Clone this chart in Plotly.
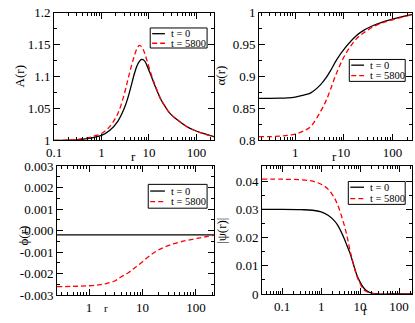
import plotly.graph_objects as go

# A(r)
r_A = [0.1, 0.2, 0.3, 0.5, 0.7, 1.0, 1.5, 2.2, 3.0, 3.6, 4.2, 4.9, 5.6, 6.3, 7.0, 8.0, 9.0, 11, 14, 17.6, 22, 28, 40, 62, 90, 138, 235]
A_t0 = [1.0, 1.0005, 1.001, 1.003, 1.005, 1.008, 1.016, 1.030, 1.050, 1.067, 1.085, 1.104, 1.117, 1.124, 1.127, 1.125, 1.118, 1.102, 1.082, 1.065, 1.053, 1.042, 1.032, 1.022, 1.016, 1.011, 1.006]
A_t5800 = [1.0, 1.0007, 1.0015, 1.004, 1.007, 1.011, 1.022, 1.042, 1.072, 1.0955, 1.115, 1.132, 1.144, 1.149, 1.147, 1.138, 1.126, 1.105, 1.083, 1.065, 1.053, 1.042, 1.032, 1.022, 1.016, 1.011, 1.006]

# alpha(r)
r_al = [0.18, 0.3, 0.5, 0.7, 1.0, 1.5, 2.1, 3.3, 4.3, 5.3, 7.2, 10.6, 18, 25, 40, 60, 100, 160, 250]
al_t0 = [0.866, 0.866, 0.8662, 0.8667, 0.868, 0.871, 0.8746, 0.887, 0.898, 0.909, 0.927, 0.945, 0.964, 0.972, 0.980, 0.985, 0.990, 0.994, 0.997]
al_t5800 = [0.806, 0.806, 0.807, 0.808, 0.810, 0.815, 0.822, 0.845, 0.862, 0.8796, 0.907, 0.934, 0.959, 0.968, 0.978, 0.984, 0.989, 0.993, 0.997]

# phi(r)
r_phi = [0.25, 0.5, 1.0, 1.5, 2.0, 3.0, 4.0, 5.5, 7.0, 10, 14, 20, 30, 50, 100, 217]
phi_t0 = [-0.0002] * len(r_phi)
phi_t5800 = [-0.00261, -0.0026, -0.00257, -0.00253, -0.00248, -0.00235, -0.00215, -0.00195, -0.00175, -0.00145, -0.00115, -0.0009, -0.0007, -0.00053, -0.00037, -0.00022]

# |psi(r)|
r_psi = [0.03, 0.1, 0.3, 0.6, 1.0, 1.5, 2.1, 2.6, 3.2, 3.9, 4.6, 5.5, 6.8, 8.2, 10, 12, 14.5, 20, 30, 60, 216]
psi_t0 = [0.030, 0.030, 0.0299, 0.0297, 0.0291, 0.0279, 0.0262, 0.0246, 0.0223, 0.0197, 0.0172, 0.0145, 0.0104, 0.0068, 0.0042, 0.0024, 0.0012, 0.0003, 0.0, 0.0, 0.0]
psi_t5800 = [0.0407, 0.0407, 0.0405, 0.0400, 0.0389, 0.0372, 0.0345, 0.0319, 0.0284, 0.0245, 0.0206, 0.0155, 0.0104, 0.0065, 0.0037, 0.0018, 0.0009, 0.0002, 0.0, 0.0, 0.0]

labels = ["t = 0", "t = 5800"]
ytitles = ["A(r)", "α(r)", "ϕ(r)", "|ψ(r)|"]
FONT = "Liberation Serif, Times New Roman, DejaVu Serif, serif"
W, H = 415, 323

styles = [dict(color="black", width=1.3), dict(color="red", width=1.3, dash="5px,3px")]

fig = go.Figure()

panels = [
    (r_A, A_t0, A_t5800, "x", "y"),
    (r_al, al_t0, al_t5800, "x2", "y2"),
    (r_phi, phi_t0, phi_t5800, "x3", "y3"),
    (r_psi, psi_t0, psi_t5800, "x4", "y4"),
]
for r, a, b, xa, ya in panels:
    for ser, lab, st in zip([a, b], labels, styles):
        fig.add_trace(go.Scatter(x=r, y=ser, name=lab, mode="lines", line=dict(st, shape="spline"),
                                 xaxis=xa, yaxis=ya, showlegend=False, hoverinfo="skip"))


def xd(a, b):
    return [a / W, b / W]


def yd(top, bot):
    return [1 - bot / H, 1 - top / H]


minor_log = [m * 10 ** e for e in range(-2, 3) for m in range(2, 10)]

common = dict(showline=True, linecolor="black", linewidth=1, mirror="ticks", ticks="inside", ticklen=6,
              tickcolor="black", showgrid=False, zeroline=False, tickfont=dict(family=FONT, size=13, color="black"))


def xaxis(dom, rng, anchor, vals):
    return dict(common, type="log", domain=dom, range=rng, anchor=anchor, tickvals=vals,
                ticktext=[str(v) for v in vals],
                minor=dict(tickvals=minor_log, ticks="inside", ticklen=3, tickcolor="black", showgrid=False))


def yaxis(dom, rng, anchor, vals, text, minor):
    return dict(common, domain=dom, range=rng, anchor=anchor, tickvals=vals, ticktext=text,
                minor=dict(tickvals=minor, ticks="inside", ticklen=3, tickcolor="black", showgrid=False))


fig.update_layout(
    width=W, height=H, margin=dict(l=0, r=0, t=0, b=0), paper_bgcolor="white", plot_bgcolor="white",
    showlegend=False,
    xaxis=xaxis(xd(47, 210), [-1, 2.37], "y", [0.1, 1, 10, 100]),
    yaxis=yaxis(yd(6, 140), [1, 1.2], "x", [1, 1.05, 1.1, 1.15, 1.2], ["1", "1.05", "1.1", "1.15", "1.2"],
                [1.025, 1.075, 1.125, 1.175]),
    xaxis2=xaxis(xd(256, 412), [-0.74, 2.4], "y2", [1, 10, 100]),
    yaxis2=yaxis(yd(6, 140), [0.8, 1.0], "x2", [0.8, 0.85, 0.9, 0.95, 1.0], ["0.8", "0.85", "0.9", "0.95", "1"],
                 [0.825, 0.875, 0.925, 0.975]),
    xaxis3=xaxis(xd(50, 210), [-0.6, 2.336], "y3", [1, 10, 100]),
    yaxis3=yaxis(yd(167, 302), [-0.003, 0.003], "x3", [-0.003, -0.002, -0.001, 0, 0.001, 0.002, 0.003],
                 ["-0.003", "-0.002", "-0.001", "0.000", "0.001", "0.002", "0.003"],
                 [-0.0025, -0.0015, -0.0005, 0.0005, 0.0015, 0.0025]),
    xaxis4=xaxis(xd(259, 412), [-1.52, 2.335], "y4", [0.1, 1, 10, 100]),
    yaxis4=yaxis(yd(167, 301), [0, 0.0453], "x4", [0, 0.01, 0.02, 0.03, 0.04], ["0", "0.01", "0.02", "0.03", "0.04"],
                 [0.005, 0.015, 0.025, 0.035, 0.045]),
)

# axis titles: (x, y) centre in pixels, size
xtitle_pos = [(128, 157, 13), (333, 157, 13), (100, 316, 11), (364, 319, 12)]
ytitle_pos = [(12, 73), (217, 72), (16, 240), (217, 235)]
for (x, y, s) in xtitle_pos:
    fig.add_annotation(text="r", x=x / W, y=1 - y / H, xref="paper", yref="paper", showarrow=False,
                       xanchor="center", yanchor="middle", font=dict(family=FONT, size=s, color="black"))
for (x, y), t in zip(ytitle_pos, ytitles):
    fig.add_annotation(text=t, x=x / W, y=1 - y / H, xref="paper", yref="paper", showarrow=False, textangle=-90,
                       xanchor="center", yanchor="middle", font=dict(family=FONT, size=13, color="black"))

# legend boxes: box x0, x1, y0, y1, line x0, x1, text x, row ys
legends = [
    (145, 203, 22, 43, 147, 160, 164, (28, 38)),
    (348, 405, 55, 78, 350, 363, 367, (61, 72)),
    (143, 203, 186, 211, 145, 160, 164, (193, 204)),
    (347, 405, 183, 207, 349, 363, 367, (189, 201)),
]
for bx0, bx1, by0, by1, lx0, lx1, tx, rows in legends:
    fig.add_shape(type="rect", xref="paper", yref="paper", x0=bx0 / W, x1=bx1 / W, y0=1 - by1 / H, y1=1 - by0 / H,
                  line=dict(color="black", width=1), fillcolor="white", layer="above")
    for ry, lab, st in zip(rows, labels, styles):
        fig.add_shape(type="line", xref="paper", yref="paper", x0=lx0 / W, x1=lx1 / W, y0=1 - ry / H, y1=1 - ry / H,
                      line=st, layer="above")
        fig.add_annotation(text=lab, x=tx / W, y=1 - ry / H, xref="paper", yref="paper", showarrow=False,
                           xanchor="left", yanchor="middle", font=dict(family=FONT, size=10.5, color="black"))

fig.write_html("out.html", config=dict(displayModeBar=False, responsive=False),
               post_script="document.body.style.margin='0';document.body.style.overflow='hidden';")
